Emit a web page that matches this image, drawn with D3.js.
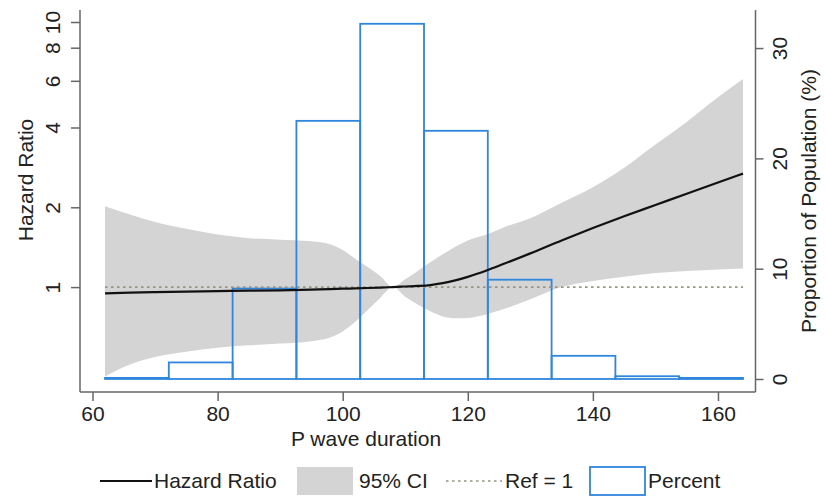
<!DOCTYPE html>
<html>
<head>
<meta charset="utf-8">
<script src="https://cdn.jsdelivr.net/npm/d3@7"></script>
<style>
  body { margin: 0; background: #fff; }
  svg text { font-family: "Liberation Sans", Arial, sans-serif; fill: #222; }
</style>
</head>
<body>
<div id="chart"></div>
<script>
// P wave duration grid for the spline and its CI
const pwd = [62, 66, 70, 75, 80, 85, 90, 95, 98, 100, 102, 104, 106, 108, 110,
             112, 114, 116, 118, 120, 123, 126, 130, 135, 140, 145, 150, 155, 160, 164];
const hazard = [0.947, 0.953, 0.958, 0.962, 0.966, 0.969, 0.972, 0.978, 0.983, 0.986, 0.989, 0.992, 0.996, 1.0, 1.005,
                1.01, 1.018, 1.035, 1.06, 1.093, 1.155, 1.23, 1.34, 1.50, 1.67, 1.85, 2.04, 2.25, 2.48, 2.68];
const ciLow = [0.46, 0.51, 0.545, 0.57, 0.59, 0.603, 0.612, 0.625, 0.645, 0.68, 0.74, 0.82, 0.91, 1.0, 0.92,
               0.86, 0.81, 0.775, 0.763, 0.765, 0.79, 0.83, 0.90, 1.0, 1.055, 1.095, 1.13, 1.15, 1.165, 1.176];
const ciHigh = [2.02, 1.88, 1.76, 1.66, 1.58, 1.53, 1.51, 1.49, 1.45, 1.38, 1.28, 1.19, 1.10, 1.0, 1.07,
                1.15, 1.24, 1.33, 1.42, 1.50, 1.58, 1.69, 1.82, 2.08, 2.38, 2.82, 3.45, 4.2, 5.2, 6.1];

// histogram
const binEdges = [62, 72.2, 82.4, 92.6, 102.8, 113, 123.2, 133.4, 143.6, 153.8, 164];
const percent = [0.1, 1.5, 8.2, 23.4, 32.2, 22.5, 9.0, 2.1, 0.25, 0.1];

// ticks
const xTicks = [60, 80, 100, 120, 140, 160];
const hrTicks = [1, 2, 4, 6, 8, 10];
const pctTicks = [0, 10, 20, 30];

const legendItems = ["Hazard Ratio", "95% CI", "Ref = 1", "Percent"];

const width = 825, height = 496;
const plot = { left: 80, right: 755.5, top: 10, bottom: 392 };
const fontSize = "21px";

const svg = d3.select("#chart").append("svg")
    .attr("width", width)
    .attr("height", height);

const x = d3.scaleLinear().domain([58, 166]).range([plot.left, plot.right]);
const yHR = d3.scaleLog().domain([0.402, 11.1]).range([plot.bottom, plot.top]);
const yPct = d3.scaleLinear().domain([-1.18, 33.45]).range([plot.bottom, plot.top]);

const blue = "#2f86dc";
const axisColor = "#666";

const rows = pwd.map((d, i) => ({ x: d, hr: hazard[i], lo: ciLow[i], hi: ciHigh[i] }));

// CI band
const band = d3.area()
    .x(d => x(d.x))
    .y0(d => yHR(d.lo))
    .y1(d => yHR(d.hi))
    .curve(d3.curveMonotoneX);

svg.append("path")
    .datum(rows)
    .attr("d", band)
    .style("fill", "#d4d4d4");

// histogram bars
const bins = percent.map((p, i) => ({ x0: binEdges[i], x1: binEdges[i + 1], p: p }));
svg.append("g")
    .selectAll("rect")
    .data(bins).enter()
    .append("rect")
        .attr("x", d => x(d.x0))
        .attr("width", d => x(d.x1) - x(d.x0))
        .attr("y", d => yPct(d.p))
        .attr("height", d => yPct(0) - yPct(d.p))
        .style("fill", "none")
        .style("stroke", blue)
        .style("stroke-width", 1.8);

// reference line
svg.append("line")
    .attr("x1", x(pwd[0])).attr("x2", x(pwd[pwd.length - 1]))
    .attr("y1", yHR(1)).attr("y2", yHR(1))
    .style("stroke", "#999480")
    .style("stroke-width", 1.6)
    .style("stroke-dasharray", "2.5,3.5");

// hazard ratio line
const hrLine = d3.line()
    .x(d => x(d.x))
    .y(d => yHR(d.hr))
    .curve(d3.curveMonotoneX);

svg.append("path")
    .datum(rows)
    .attr("d", hrLine)
    .style("fill", "none")
    .style("stroke", "#111")
    .style("stroke-width", 2.2);

// axes
const frame = svg.append("g")
    .style("stroke", axisColor)
    .style("stroke-width", 1.5);
frame.append("line").attr("x1", plot.left).attr("x2", plot.left).attr("y1", plot.top).attr("y2", plot.bottom);
frame.append("line").attr("x1", plot.right).attr("x2", plot.right).attr("y1", plot.top).attr("y2", plot.bottom);
frame.append("line").attr("x1", plot.left).attr("x2", plot.right).attr("y1", plot.bottom).attr("y2", plot.bottom);

const xAxis = svg.append("g")
    .attr("transform", `translate(0,${plot.bottom})`)
    .call(d3.axisBottom(x).tickValues(xTicks).tickSize(9).tickPadding(5));

const leftAxis = svg.append("g")
    .attr("transform", `translate(${plot.left},0)`)
    .call(d3.axisLeft(yHR).tickValues(hrTicks).tickFormat(d3.format("d")).tickSize(9));

const rightAxis = svg.append("g")
    .attr("transform", `translate(${plot.right},0)`)
    .call(d3.axisRight(yPct).tickValues(pctTicks).tickSize(8));

[xAxis, leftAxis, rightAxis].forEach(g => {
    g.select(".domain").remove();
    g.selectAll(".tick line").style("stroke", axisColor).style("stroke-width", 1.5);
    g.selectAll(".tick text").style("font-size", fontSize).style("fill", "#222");
});

// rotate the y tick labels
leftAxis.selectAll(".tick text")
    .attr("x", null).attr("dy", null)
    .attr("text-anchor", "middle")
    .attr("transform", "translate(-27,0) rotate(-90)")
    .attr("dy", "0.35em");

rightAxis.selectAll(".tick text")
    .attr("x", null).attr("dy", null)
    .attr("text-anchor", "middle")
    .attr("transform", "translate(24,0) rotate(-90)")
    .attr("dy", "0.35em");

// axis titles
svg.append("text")
    .attr("transform", "translate(26,180) rotate(-90)")
    .attr("text-anchor", "middle")
    .attr("dy", "0.35em")
    .style("font-size", fontSize)
    .text("Hazard Ratio");

svg.append("text")
    .attr("transform", "translate(809,201) rotate(-90)")
    .attr("text-anchor", "middle")
    .attr("dy", "0.35em")
    .style("font-size", fontSize)
    .text("Proportion of Population (%)");

svg.append("text")
    .attr("x", 366)
    .attr("y", 446)
    .attr("text-anchor", "middle")
    .style("font-size", fontSize)
    .text("P wave duration");

// legend
const legend = svg.append("g").attr("transform", "translate(0,481)");

legend.append("line")
    .attr("x1", 100).attr("x2", 152).attr("y1", 0).attr("y2", 0)
    .style("stroke", "#111").style("stroke-width", 2);
legend.append("rect")
    .attr("x", 297).attr("y", -14).attr("width", 56).attr("height", 28)
    .style("fill", "#d4d4d4");
legend.append("line")
    .attr("x1", 446).attr("x2", 502).attr("y1", 0).attr("y2", 0)
    .style("stroke", "#999480").style("stroke-width", 1.6).style("stroke-dasharray", "2.5,3.5");
legend.append("rect")
    .attr("x", 590).attr("y", -14).attr("width", 55).attr("height", 28)
    .style("fill", "#fff").style("stroke", blue).style("stroke-width", 1.8);

const legendX = [154, 359, 505, 648];
legend.selectAll(".label")
    .data(legendItems).enter()
    .append("text")
        .attr("class", "label")
        .attr("x", (d, i) => legendX[i])
        .attr("dy", "0.35em")
        .style("font-size", fontSize)
        .text(d => d);
</script>
</body>
</html>
